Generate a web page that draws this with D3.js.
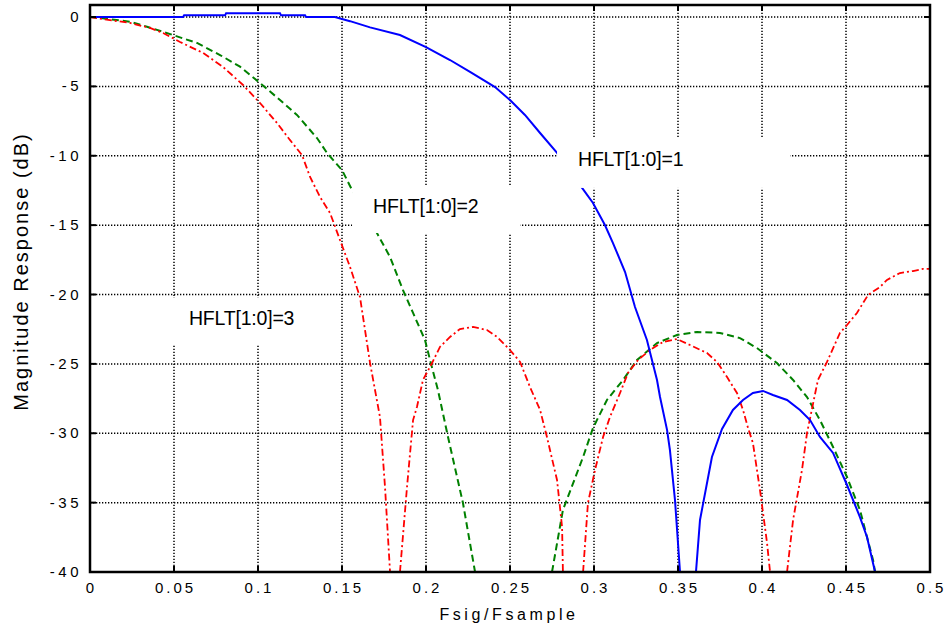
<!DOCTYPE html>
<html>
<head>
<meta charset="utf-8">
<script src="https://cdn.jsdelivr.net/npm/d3@7"></script>
<style>
  html, body { margin: 0; padding: 0; background: #fff; }
  svg { display: block; }
  text { font-family: "Liberation Sans", Arial, sans-serif; fill: #000; }
</style>
</head>
<body>
<svg id="chart" width="949" height="632"></svg>
<script>
// ---------- data ----------
const xTicks = [0, 0.05, 0.1, 0.15, 0.2, 0.25, 0.3, 0.35, 0.4, 0.45, 0.5];
const xTickLabels = ["0", "0.05", "0.1", "0.15", "0.2", "0.25", "0.3", "0.35", "0.4", "0.45", "0.5"];
const yTicks = [0, -5, -10, -15, -20, -25, -30, -35, -40];
const yTickLabels = ["0", "-5", "-10", "-15", "-20", "-25", "-30", "-35", "-40"];
const xLabel = "Fsig/Fsample";
const yLabel = "Magnitude Response (dB)";

// HFLT[1:0]=1  (null = gap below -40 dB)
const hflt1 = [
  [0, 0], [0.0554, 0], [0.056, 0.12], [0.0804, 0.12], [0.081, 0.27], [0.1131, 0.27],
  [0.1137, 0.12], [0.128, 0.12], [0.1286, 0], [0.1458, 0], [0.1548, -0.3], [0.1667, -0.75],
  [0.1845, -1.3], [0.2, -2.17], [0.2143, -3.1], [0.2262, -3.96], [0.2411, -5.05],
  [0.25, -5.98], [0.2589, -7.06], [0.2679, -8.36], [0.278, -9.8], [0.2929, -12.32],
  [0.2994, -13.4], [0.3065, -14.99], [0.3113, -16.29], [0.3185, -18.38], [0.3244, -20.9],
  [0.3315, -23.28], [0.3375, -26.16], [0.3393, -27.39], [0.3435, -29.77], [0.3452, -31.21],
  [0.3482, -34.8], [0.3512, -40],
  null,
  [0.3607, -40], [0.3631, -36.25], [0.3702, -31.71], [0.3762, -29.69], [0.3827, -28.32],
  [0.3887, -27.6], [0.3946, -27.1], [0.4006, -26.95], [0.4065, -27.24], [0.4149, -27.6],
  [0.4226, -28.32], [0.4286, -29.05], [0.4345, -30.27], [0.4423, -31.42], [0.4506, -33.73],
  [0.4583, -36.04], [0.4625, -37.48], [0.4673, -40]
];

// HFLT[1:0]=2
const hflt2 = [
  [0, 0], [0.006, -0.07], [0.0238, -0.34], [0.0339, -0.7], [0.0494, -1.3], [0.0637, -1.87],
  [0.0774, -2.74], [0.0893, -3.58], [0.1012, -4.76], [0.1131, -5.98], [0.1232, -7.06],
  [0.1351, -8.72], [0.1411, -9.8], [0.15, -11.03], [0.156, -12.47], [0.1708, -15.57],
  [0.1786, -17.3], [0.1863, -19.68], [0.1923, -21.33], [0.1994, -23.28], [0.2024, -24.72],
  [0.2071, -26.88], [0.2131, -30.27], [0.222, -35.03], [0.2292, -40],
  null,
  [0.275, -40], [0.2815, -35.53], [0.2935, -31.71], [0.2994, -29.62], [0.3077, -27.6],
  [0.3173, -26.16], [0.3256, -24.72], [0.3375, -23.5], [0.3494, -22.92], [0.3613, -22.7],
  [0.375, -22.77], [0.3869, -23.14], [0.397, -23.86], [0.4089, -24.94], [0.4185, -26.16],
  [0.4268, -27.39], [0.4345, -29.05], [0.4423, -30.99], [0.4506, -33.15], [0.4583, -35.53],
  [0.4661, -39.14], [0.4673, -40]
];

// HFLT[1:0]=3
const hflt3 = [
  [0, 0], [0.0119, -0.22], [0.0238, -0.43], [0.0357, -0.79], [0.0435, -1.15], [0.0536, -1.8],
  [0.0673, -2.59], [0.0792, -3.6], [0.0911, -4.9], [0.1012, -6.2], [0.1113, -7.64],
  [0.119, -8.86], [0.1262, -9.95], [0.131, -11.53], [0.1369, -12.97], [0.1429, -14.13],
  [0.1488, -16.07], [0.1548, -18.02], [0.1607, -20.18], [0.1667, -24.94], [0.1726, -28.83],
  [0.1756, -33.87], [0.1786, -40],
  null,
  [0.1845, -40], [0.1887, -33.87], [0.1923, -29.05], [0.1946, -28.11], [0.1982, -26.16],
  [0.2036, -24.94], [0.2083, -23.78], [0.2143, -23.06], [0.2202, -22.49], [0.228, -22.34],
  [0.2363, -22.56], [0.2423, -23.06], [0.25, -24.0], [0.256, -24.86], [0.2619, -26.67],
  [0.2679, -28.32], [0.272, -30.27], [0.2738, -31.21], [0.278, -33.37], [0.281, -36.76],
  [0.2815, -40],
  null,
  [0.2935, -40], [0.2964, -35.03], [0.3006, -32.65], [0.3054, -30.27], [0.3095, -28.83],
  [0.3155, -27.1], [0.3202, -25.66], [0.3262, -24.72], [0.3333, -24.0], [0.3411, -23.42],
  [0.3494, -23.21], [0.3571, -23.64], [0.3673, -24.22], [0.3732, -24.86], [0.3792, -25.95],
  [0.3851, -27.1], [0.3887, -28.32], [0.3917, -29.62], [0.3946, -30.7], [0.3988, -34.09],
  [0.403, -37.91], [0.4048, -40],
  null,
  [0.4149, -40], [0.4185, -36.25], [0.4238, -32.65], [0.4268, -29.98], [0.4333, -26.16],
  [0.4387, -24.86], [0.4464, -22.77], [0.4506, -22.2], [0.4565, -21.33], [0.4631, -20.04],
  [0.4702, -19.46], [0.4744, -18.95], [0.4821, -18.45], [0.4899, -18.31], [0.4958, -18.16],
  [0.5, -18.16]
];

// annotation labels: text, anchor (x, dB) and white box extents (x0, x1, dB top, dB bottom)
const labelTexts = ["HFLT[1:0]=1", "HFLT[1:0]=2", "HFLT[1:0]=3"];
const labelAnchors = [[0.2905, -10.74], [0.1685, -14.13], [0.0589, -22.2]];
const labelBoxes = [[0.278, 0.4167, -8.72, -12.32], [0.156, 0.256, -12.11, -15.57], [0.0446, 0.1488, -20.25, -23.64]];

// ---------- layout ----------
const svg = d3.select("#chart");
const mLeft = 90, mRight = 930, mTop = 5, mBottom = 572;
const x = d3.scaleLinear().domain([0, 0.5]).range([mLeft, mRight]);
const y = d3.scaleLinear().domain([-40, 0.865]).range([mBottom, mTop]);

// grid
const grid = svg.append("g").attr("stroke", "#000").attr("stroke-width", 1.5).attr("stroke-dasharray", "1.3,1.7");
grid.selectAll("line.gx").data(xTicks.slice(1, -1)).join("line")
  .attr("x1", d => x(d)).attr("x2", d => x(d)).attr("y1", y(-40)).attr("y2", mTop);
grid.selectAll("line.gy").data(yTicks.slice(0, -1)).join("line")
  .attr("y1", d => y(d)).attr("y2", d => y(d)).attr("x1", mLeft).attr("x2", mRight);

// curves
svg.append("clipPath").attr("id", "clip").append("rect")
  .attr("x", mLeft).attr("y", mTop).attr("width", mRight - mLeft).attr("height", mBottom - mTop);
const line = d3.line().defined(d => d !== null).x(d => x(d[0])).y(d => y(d[1]));
const curves = svg.append("g").attr("clip-path", "url(#clip)").attr("fill", "none");
curves.append("path").datum(hflt2).attr("d", line)
  .attr("stroke", "#008000").attr("stroke-width", 2).attr("stroke-dasharray", "7,4");
curves.append("path").datum(hflt3).attr("d", line)
  .attr("stroke", "#ff0000").attr("stroke-width", 1.8).attr("stroke-dasharray", "7,3,2,3");
curves.append("path").datum(hflt1).attr("d", line)
  .attr("stroke", "#0000ff").attr("stroke-width", 2);

// label boxes + text
svg.append("g").selectAll("rect").data(labelBoxes).join("rect")
  .attr("x", d => x(d[0])).attr("width", d => x(d[1]) - x(d[0]))
  .attr("y", d => y(d[2])).attr("height", d => y(d[3]) - y(d[2]))
  .attr("fill", "#fff");
svg.append("g").selectAll("text").data(labelTexts).join("text")
  .attr("x", (d, i) => x(labelAnchors[i][0])).attr("y", (d, i) => y(labelAnchors[i][1]))
  .attr("font-size", 19.5).attr("letter-spacing", "-0.2px")
  .text(d => d);

// frame
svg.append("rect").attr("x", mLeft).attr("y", mTop).attr("width", mRight - mLeft).attr("height", mBottom - mTop)
  .attr("fill", "none").attr("stroke", "#000").attr("stroke-width", 2.5);

// inward ticks on all sides
const tk = svg.append("g").attr("stroke", "#000").attr("stroke-width", 2);
xTicks.forEach(v => {
  tk.append("line").attr("x1", x(v)).attr("x2", x(v)).attr("y1", mBottom).attr("y2", mBottom - 6);
  tk.append("line").attr("x1", x(v)).attr("x2", x(v)).attr("y1", mTop).attr("y2", mTop + 6);
});
yTicks.forEach(v => {
  tk.append("line").attr("y1", y(v)).attr("y2", y(v)).attr("x1", mLeft).attr("x2", mLeft + 6);
  tk.append("line").attr("y1", y(v)).attr("y2", y(v)).attr("x1", mRight).attr("x2", mRight - 6);
});

// tick labels
svg.append("g").selectAll("text").data(xTicks).join("text")
  .attr("x", d => x(d) + 1.5).attr("y", mBottom + 21)
  .attr("text-anchor", "middle").attr("font-size", 15).attr("letter-spacing", "3px")
  .text((d, i) => xTickLabels[i]);
svg.append("g").selectAll("text").data(yTicks).join("text")
  .attr("x", mLeft - 8).attr("y", d => y(d) + 5)
  .attr("text-anchor", "end").attr("font-size", 15).attr("letter-spacing", "3.5px")
  .text((d, i) => yTickLabels[i]);

// axis titles
svg.append("text").attr("x", (mLeft + mRight) / 2 - 1).attr("y", 620)
  .attr("text-anchor", "middle").attr("font-size", 16).attr("letter-spacing", "3.6px")
  .text(xLabel);
svg.append("text").attr("transform", `translate(28, ${(mTop + mBottom) / 2 - 17}) rotate(-90)`)
  .attr("text-anchor", "middle").attr("font-size", 20).attr("letter-spacing", "2px")
  .text(yLabel);
</script>
</body>
</html>
